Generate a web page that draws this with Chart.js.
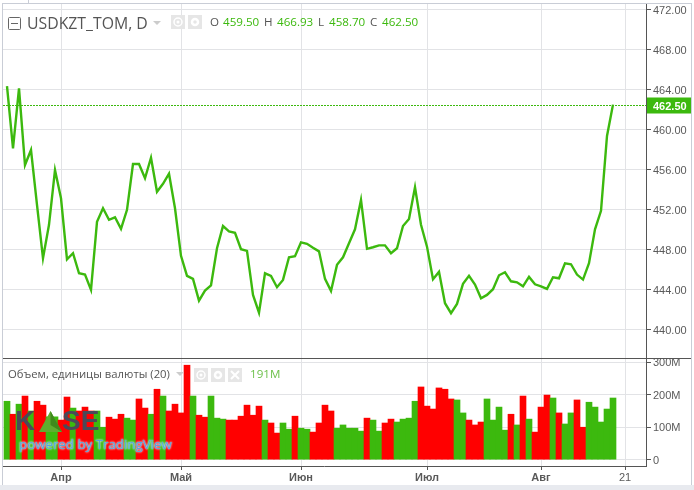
<!DOCTYPE html>
<html>
<head>
<meta charset="utf-8">
<title>USDKZT_TOM</title>
<script src="https://cdn.jsdelivr.net/npm/chart.js@4/dist/chart.umd.min.js"></script>
<style>
	html, body { margin: 0; padding: 0; background: #fff; }
	#wrap { position: relative; width: 694px; height: 490px; overflow: hidden; font-family: "Open Sans", sans-serif; }
	#wrap canvas { position: absolute; left: 0; top: 0; }
	.txt { position: absolute; white-space: nowrap; color: #555; }
	.val { color: #3cb90e; }
	.box { position: absolute; width: 14px; height: 14px; background: #e6e6e6; }
	.box svg { display: block; }
	.edge { position: absolute; background: #c9cdd6; }
	.strip { position: absolute; left: 0; top: 485px; width: 694px; height: 5px; background: #e8eaef; }
	.logo { position: absolute; top: 405px; font: bold 28px "Liberation Sans", sans-serif; color: #4a4a58; }
	#powered { position: absolute; left: 19px; top: 435px; font: 13.3px "Open Sans", sans-serif; color: #55a7dd; text-shadow: 0 0 2px #cfe9fa, 0 0 2px #cfe9fa; }
</style>
</head>
<body>
<div id="wrap">
	<canvas id="chart" width="694" height="490"></canvas>
	<div class="edge" style="left:2px;top:3px;width:1px;height:482px"></div>
	<div class="edge" style="left:2px;top:3px;width:689px;height:1px"></div>
	<div class="edge" style="left:691px;top:3px;width:1px;height:482px"></div>
	<div class="edge" style="left:28px;top:0;width:1px;height:3px"></div>
	<div class="strip"></div>

	<svg style="position:absolute;left:8px;top:17px" width="13" height="13"><rect x=".5" y=".5" width="12" height="12" rx="1" fill="none" stroke="#666"/><path d="M3 6.5h7" stroke="#666"/></svg>
	<div class="txt" style="left:27px;top:12px;font-size:15.8px">USDKZT_TOM, D</div>
	<svg style="position:absolute;left:153px;top:21px" width="8" height="5"><path d="M0 0h8L4 4z" fill="#ccc"/></svg>
	<div class="box" style="left:171px;top:15px"><svg width="14" height="14"><circle cx="7" cy="7" r="4" fill="none" stroke="#fff" stroke-width="1.5"/><circle cx="7" cy="7" r="1.5" fill="#fff"/></svg></div>
	<div class="box" style="left:188px;top:15px"><svg width="14" height="14"><circle cx="7" cy="7" r="3" fill="none" stroke="#fff" stroke-width="2.5"/></svg></div>
	<div class="txt" style="left:210px;top:14px;font-size:11.6px">O</div>
	<div class="txt val" style="left:223px;top:14px;font-size:11.6px">459.50</div>
	<div class="txt" style="left:264px;top:14px;font-size:11.6px">H</div>
	<div class="txt val" style="left:277px;top:14px;font-size:11.6px">466.93</div>
	<div class="txt" style="left:318px;top:14px;font-size:11.6px">L</div>
	<div class="txt val" style="left:329px;top:14px;font-size:11.6px">458.70</div>
	<div class="txt" style="left:370px;top:14px;font-size:11.6px">C</div>
	<div class="txt val" style="left:382px;top:14px;font-size:11.6px">462.50</div>

	<div class="txt" style="left:8px;top:366px;font-size:11.3px">Объем, единицы валюты (20)</div>
	<svg style="position:absolute;left:176px;top:372px" width="8" height="5"><path d="M0 0h8L4 4z" fill="#ccc"/></svg>
	<div class="box" style="left:194px;top:368px"><svg width="14" height="14"><circle cx="7" cy="7" r="4" fill="none" stroke="#fff" stroke-width="1.5"/><circle cx="7" cy="7" r="1.5" fill="#fff"/></svg></div>
	<div class="box" style="left:211px;top:368px"><svg width="14" height="14"><circle cx="7" cy="7" r="3" fill="none" stroke="#fff" stroke-width="2.5"/></svg></div>
	<div class="box" style="left:228px;top:368px"><svg width="14" height="14"><path d="M3 3l8 8M11 3l-8 8" stroke="#fff" stroke-width="2"/></svg></div>
	<div class="txt val" style="left:250px;top:366px;font-size:11.6px;color:#6cc04a">191M</div>

	<div class="logo" style="left:15px">K</div>
	<svg style="position:absolute;left:39px;top:411px" width="23" height="21"><path d="M11.5 0L23 21H0z" fill="#5fae2e"/><path d="M11.5 0L23 21L11.5 14z" fill="#3f8a1c"/></svg>
	<div class="logo" style="left:62px">SE</div>
	<div id="powered">powered by TradingView</div>
</div>

<script>
const closes = [
	464.36, 458.14, 464.13, 456.47, 457.97, 452.5, 447.16, 450.5, 455.97, 453.15,
	447.06, 447.66, 445.66, 445.53, 444.0, 450.8, 452.15, 451.0, 451.25, 450.1,
	452.0, 456.57, 456.57, 455.15, 457.2, 453.8, 454.6, 455.6, 452.15, 447.4,
	445.4, 445.1, 442.93, 443.93, 444.46, 448.16, 450.38, 449.85, 449.7, 448.06,
	447.9, 443.5, 441.73, 445.66, 445.4, 444.27, 445.0, 447.26, 447.36, 448.75,
	448.6, 448.2, 447.85, 445.1, 443.9, 446.5, 447.26, 448.66, 450.05, 452.98,
	448.1, 448.26, 448.45, 448.45, 447.66, 448.16, 450.38, 451.08, 454.25, 450.5,
	448.32, 445.06, 445.8, 442.67, 441.67, 442.6, 444.6, 445.4, 444.53, 443.17,
	443.5, 444.07, 445.46, 445.76, 444.86, 444.76, 444.36, 445.3, 444.56, 444.36,
	444.1, 445.26, 445.16, 446.66, 446.56, 445.53, 445.03, 446.66, 450.05, 451.9,
	459.37, 462.5
];
// millions
const volumes = [
	180, 140, 171, 196, 150, 180, 168, 132, 132, 122,
	193, 159, 150, 162, 150, 150, 100, 131, 125, 140,
	128, 122, 187, 159, 140, 217, 196, 150, 171, 144,
	291, 196, 137, 131, 196, 128, 125, 122, 122, 134,
	168, 137, 165, 122, 113, 82, 113, 94, 134, 97,
	94, 85, 113, 168, 150, 97, 107, 97, 97, 88,
	128, 122, 88, 113, 125, 116, 125, 128, 180, 224,
	165, 156, 221, 217, 187, 184, 144, 122, 107, 116,
	187, 122, 162, 91, 140, 107, 196, 125, 85, 162,
	199, 190, 144, 110, 144, 184, 100, 177, 162, 116,
	156, 190
];
const volumeUp = [
	1, 0, 1, 0, 1, 0, 0, 1, 1, 0,
	0, 1, 0, 0, 0, 1, 1, 0, 0, 0,
	1, 1, 0, 0, 1, 0, 1, 0, 0, 0,
	0, 1, 0, 0, 1, 1, 1, 0, 0, 0,
	0, 0, 0, 1, 0, 0, 1, 1, 0, 1,
	1, 0, 0, 0, 0, 1, 1, 1, 1, 1,
	0, 1, 1, 0, 0, 1, 1, 1, 1, 0,
	0, 0, 0, 0, 0, 1, 1, 0, 0, 0,
	1, 1, 1, 1, 0, 1, 0, 1, 0, 0,
	0, 1, 0, 1, 1, 0, 0, 1, 1, 1,
	1, 1
];
const timeTicks = [9, 29, 49, 70, 89, 103];
const timeLabels = ["Апр", "Май", "Июн", "Июл", "Авг", "21"];
const priceTicks = [440, 444, 448, 452, 456, 460, 464, 468, 472];
const volumeTicks = [0, 100, 200, 300];
const lastPrice = 462.5;

const GREEN = "#3cb90e";
const RED = "#ff0000";
const GRID = "#e2e3e6";
const AXIS = "#555";
const TICK = "#5a5a5a";

// price tag, dotted last price line, pane separator
const overlay = {
	id: "overlay",
	afterDatasetsDraw(chart) {
		const c = chart.ctx;
		const area = chart.chartArea;
		const y = Math.round(chart.scales.y.getPixelForValue(lastPrice)) + 0.5;
		const sep = chart.scales.yVol.top;
		c.save();
		c.strokeStyle = AXIS;
		c.beginPath();
		c.moveTo(3, Math.round(sep) + 0.5);
		c.lineTo(691, Math.round(sep) + 0.5);
		c.stroke();
		c.strokeStyle = GREEN;
		c.setLineDash([2, 1]);
		c.beginPath();
		c.moveTo(3, y);
		c.lineTo(area.right, y);
		c.stroke();
		c.fillStyle = GREEN;
		c.fillRect(area.right + 1, y - 8, 44, 16);
		c.fillStyle = "#fff";
		c.font = "bold 11px 'Liberation Sans'";
		c.textBaseline = "middle";
		c.fillText(lastPrice.toFixed(2), area.right + 7, y + 1);
		c.restore();
	}
};

// no room kept for half a tick label at the ends of an axis
const noPadding = (s) => {
	s.paddingTop = 0;
	s.paddingBottom = 0;
	s.paddingLeft = 0;
	s.paddingRight = 0;
};
const fixWidth = (s) => {
	s.width = 44;
	noPadding(s);
};

new Chart(document.getElementById("chart"), {
	data: {
		datasets: [
			{
				type: "line",
				data: closes.map((v, i) => ({ x: i, y: v })),
				yAxisID: "y",
				borderColor: GREEN,
				borderWidth: 2.4,
				pointRadius: 0,
				tension: 0,
				order: 1,
			},
			{
				type: "bar",
				data: volumes.map((v, i) => ({ x: i, y: v })),
				yAxisID: "yVol",
				backgroundColor: volumeUp.map((u) => (u ? GREEN : RED)),
				barPercentage: 1,
				categoryPercentage: 1,
				order: 2,
			},
		],
	},
	plugins: [overlay],
	options: {
		responsive: false,
		animation: false,
		events: [],
		layout: { padding: { left: 2, top: 3, right: 4, bottom: 0 } },
		plugins: { legend: { display: false }, tooltip: { enabled: false } },
		scales: {
			x: {
				type: "linear",
				offset: false,
				min: -5 / 6,
				max: 106.5,
				afterFit: (s) => {
					s.height = 24;
					noPadding(s);
				},
				afterBuildTicks: (s) => { s.ticks = timeTicks.map((v) => ({ value: v })); },
				grid: { offset: false, color: GRID, tickColor: AXIS, tickLength: 4 },
				border: { color: AXIS },
				ticks: {
					autoSkip: false,
					maxRotation: 0,
					padding: 1,
					color: TICK,
					font: (ctx) => ({ family: "Liberation Sans", size: 11, weight: ctx.index < 5 ? "bold" : "normal" }),
					callback: (v, i) => timeLabels[i],
				},
			},
			y: {
				position: "right",
				stack: "panes",
				stackWeight: 355,
				min: 437.2,
				max: 472.65,
				afterFit: fixWidth,
				afterBuildTicks: (s) => { s.ticks = priceTicks.map((v) => ({ value: v })); },
				grid: { color: GRID, tickColor: AXIS, tickLength: 5 },
				border: { color: AXIS },
				ticks: {
					autoSkip: false,
					padding: 2,
					labelOffset: 1,
					color: TICK,
					font: { family: "Liberation Sans", size: 11 },
					callback: (v) => v.toFixed(2),
				},
			},
			yVol: {
				position: "right",
				stack: "panes",
				stackWeight: 108,
				min: -19.4,
				max: 313.2,
				afterFit: fixWidth,
				afterBuildTicks: (s) => { s.ticks = volumeTicks.map((v) => ({ value: v })); },
				grid: { color: GRID, tickColor: AXIS, tickLength: 5 },
				border: { color: AXIS },
				ticks: {
					autoSkip: false,
					padding: 2,
					labelOffset: 1,
					color: TICK,
					font: { family: "Liberation Sans", size: 11 },
					callback: (v) => (v === 0 ? "0" : v + "M"),
				},
			},
		},
	},
});
</script>
</body>
</html>
